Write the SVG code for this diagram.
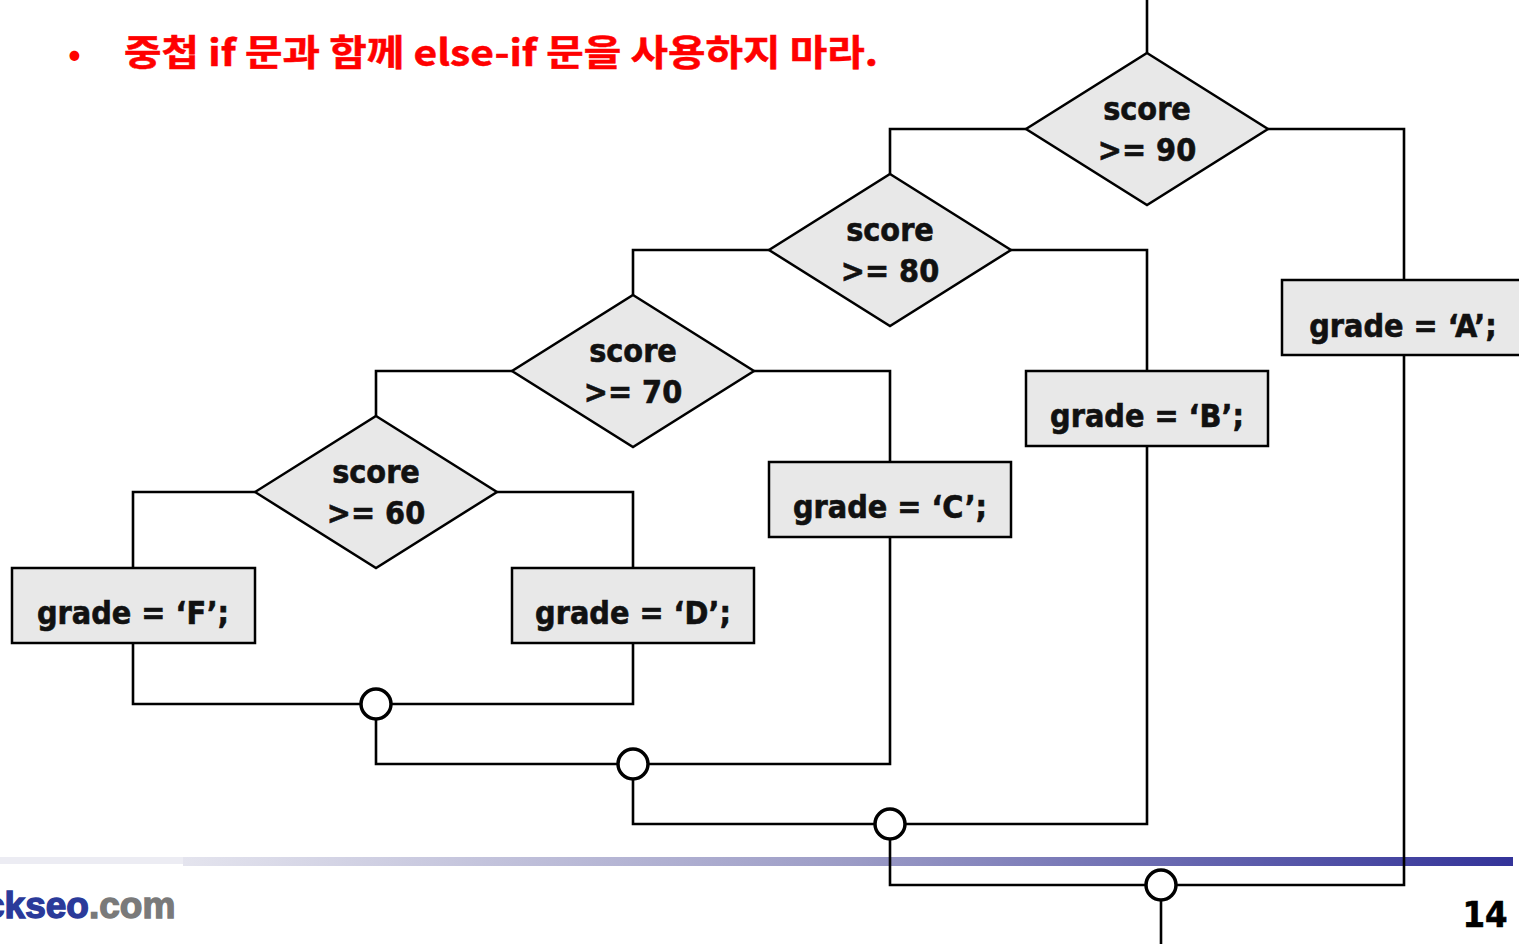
<svg xmlns="http://www.w3.org/2000/svg" width="1519" height="944" viewBox="0 0 1519 944">
<defs>
<linearGradient id="bar" x1="0" y1="0" x2="1" y2="0">
<stop offset="0" stop-color="#e4e4ee"/>
<stop offset="0.5" stop-color="#9c9cc6"/>
<stop offset="1" stop-color="#333399"/>
</linearGradient>
<style>
.dia{fill:#e8e8e8;stroke:#000;stroke-width:2.5}
.box{fill:#e8e8e8;stroke:#000;stroke-width:2.5}
.lbl{font-family:"DejaVu Sans Condensed","DejaVu Sans",sans-serif;font-weight:bold;font-size:32px;fill:#111;stroke:#111;stroke-width:0.6;text-anchor:middle}
.con{fill:none;stroke:#000;stroke-width:2.6}
.jn{fill:#fff;stroke:#000;stroke-width:3.5}
</style>
</defs>
<rect width="1519" height="944" fill="#fff"/>
<text x="68" y="66" font-family="'Noto Sans CJK KR',sans-serif" font-size="34" font-weight="bold" fill="#ff0000">•</text>
<text x="124" y="66" font-family="'Noto Sans CJK KR',sans-serif" font-size="36" font-weight="bold" fill="#ff0000" stroke="#ff0000" stroke-width="0.5" textLength="754" lengthAdjust="spacingAndGlyphs">중첩 if 문과 함께 else-if 문을 사용하지 마라.</text>
<rect x="0" y="857" width="184" height="7" fill="#ececf3"/>
<rect x="183" y="857" width="1330" height="9" fill="url(#bar)"/>
<g id="connectors">
<path class="con" d="M1147 0V53"/>
<path class="con" d="M1026 129H890V174"/>
<path class="con" d="M1268 129H1404V280"/>
<path class="con" d="M1404 355V885H1177"/>
<path class="con" d="M1145 885H890V840"/>
<path class="con" d="M1161 901V944"/>
<path class="con" d="M769 250H633V295"/>
<path class="con" d="M1011 250H1147V371"/>
<path class="con" d="M1147 446V824H906"/>
<path class="con" d="M874 824H633V780"/>
<path class="con" d="M512 371H376V416"/>
<path class="con" d="M754 371H890V462"/>
<path class="con" d="M890 537V764H649"/>
<path class="con" d="M617 764H376V720"/>
<path class="con" d="M255 492H133V568"/>
<path class="con" d="M497 492H633V568"/>
<path class="con" d="M133 643V704H360"/>
<path class="con" d="M633 643V704H392"/>
</g>
<g id="d90"><polygon class="dia" points="1147,53 1268,129 1147,205 1026,129"/><text class="lbl" x="1147" y="120">score</text><text class="lbl" x="1147" y="161">&gt;= 90</text></g>
<g id="d80"><polygon class="dia" points="890,174 1011,250 890,326 769,250"/><text class="lbl" x="890" y="241">score</text><text class="lbl" x="890" y="282">&gt;= 80</text></g>
<g id="d70"><polygon class="dia" points="633,295 754,371 633,447 512,371"/><text class="lbl" x="633" y="362">score</text><text class="lbl" x="633" y="403">&gt;= 70</text></g>
<g id="d60"><polygon class="dia" points="376,416 497,492 376,568 255,492"/><text class="lbl" x="376" y="483">score</text><text class="lbl" x="376" y="524">&gt;= 60</text></g>
<g id="ga"><rect class="box" x="1282" y="280" width="242" height="75"/><text class="lbl" x="1403" y="337">grade = ‘A’;</text></g>
<g id="gb"><rect class="box" x="1026" y="371" width="242" height="75"/><text class="lbl" x="1147" y="427">grade = ‘B’;</text></g>
<g id="gc"><rect class="box" x="769" y="462" width="242" height="75"/><text class="lbl" x="890" y="518">grade = ‘C’;</text></g>
<g id="gd"><rect class="box" x="512" y="568" width="242" height="75"/><text class="lbl" x="633" y="624">grade = ‘D’;</text></g>
<g id="gf"><rect class="box" x="12" y="568" width="243" height="75"/><text class="lbl" x="133" y="624">grade = ‘F’;</text></g>
<g id="j1"><circle class="jn" cx="376" cy="704" r="15"/></g>
<g id="j2"><circle class="jn" cx="633" cy="764" r="15"/></g>
<g id="j3"><circle class="jn" cx="890" cy="824" r="15"/></g>
<g id="j4"><circle class="jn" cx="1161" cy="885" r="15"/></g>
<text x="-16" y="918" font-family="'Liberation Sans',sans-serif" font-weight="bold" font-size="37"><tspan fill="#2a3a9a" stroke="#2a3a9a" stroke-width="1.4">ckseo</tspan><tspan fill="#7a7a7a" stroke="#7a7a7a" stroke-width="1.4">.com</tspan></text>
<text x="1485" y="927" font-family="'DejaVu Sans Condensed','DejaVu Sans',sans-serif" font-weight="bold" font-size="36" text-anchor="middle" fill="#000" stroke="#000" stroke-width="0.6">14</text>
</svg>
